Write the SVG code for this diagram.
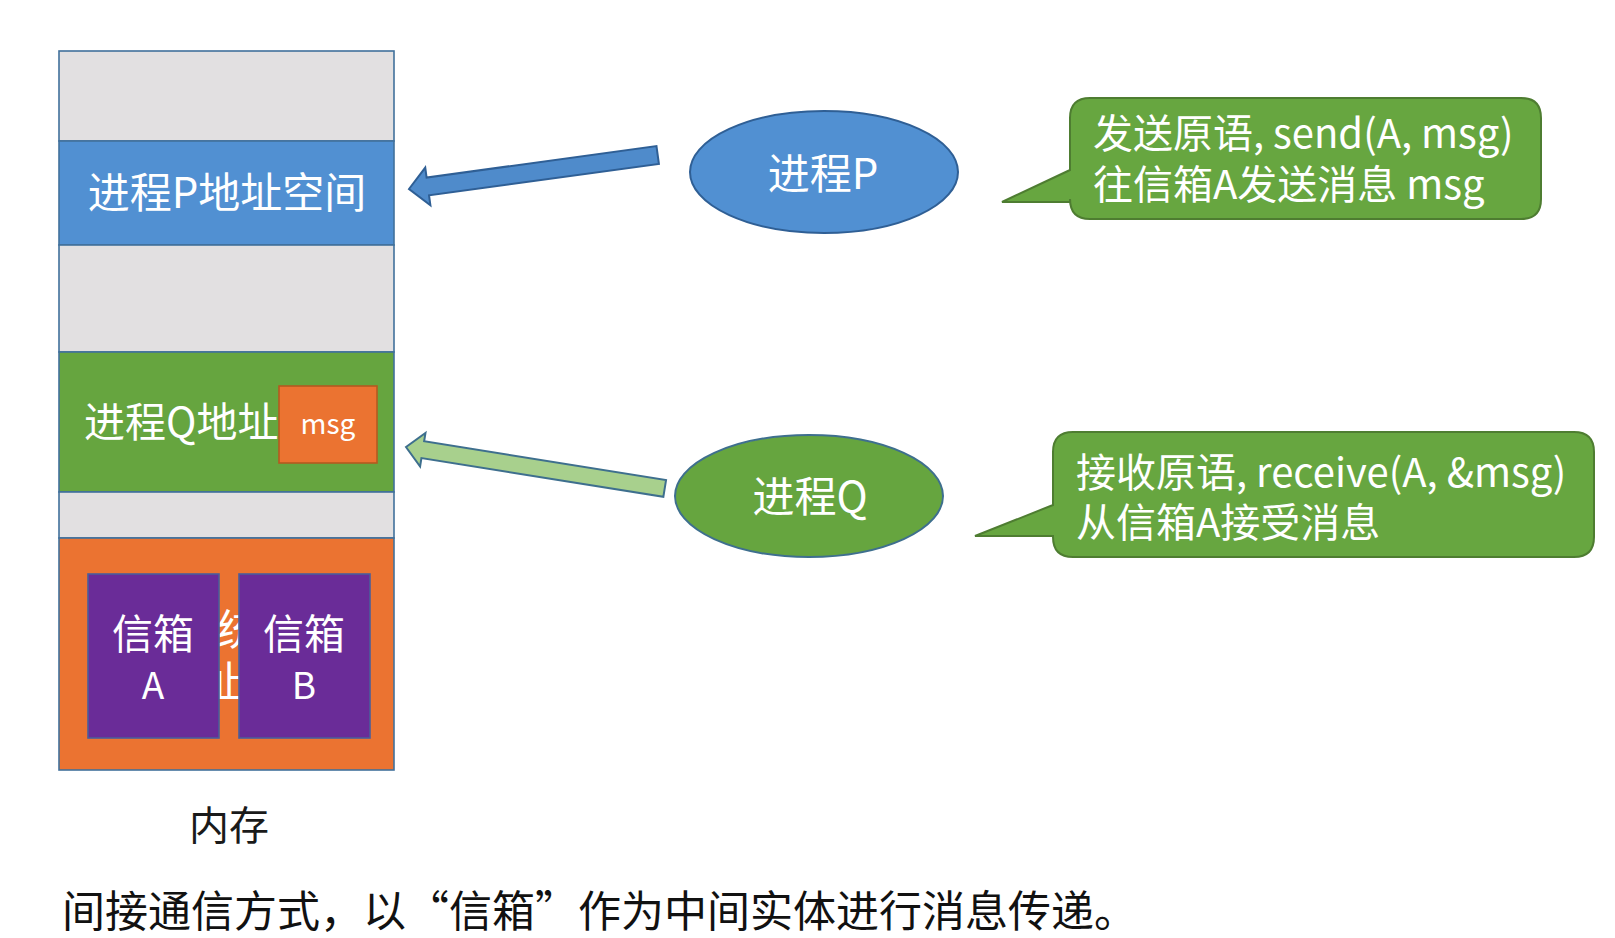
<svg xmlns="http://www.w3.org/2000/svg" width="1615" height="938" viewBox="0 0 1615 938">
<style>
.cjk{font-family:"Noto Sans CJK SC","Noto Sans",sans-serif;}
.w{fill:#ffffff;}
.seg{stroke:#41719C;stroke-width:1.6;}
.gray{fill:#E2E0E1;}
.bubble{fill:#67A640;stroke:#4E7D31;stroke-width:2;}
</style>
<defs>
  <clipPath id="gap"><rect x="219" y="574" width="20" height="164"/></clipPath>
</defs>
<rect width="1615" height="938" fill="#ffffff"/>
<g id="memory">
  <rect class="seg gray" x="59" y="51" width="335" height="90"/>
  <rect class="seg" x="59" y="141" width="335" height="104" fill="#5190D2"/>
  <rect class="seg gray" x="59" y="245" width="335" height="107"/>
  <rect class="seg" x="59" y="352" width="335" height="140" fill="#66A53F"/>
  <rect class="seg gray" x="59" y="492" width="335" height="46"/>
  <rect class="seg" x="59" y="538" width="335" height="232" fill="#EB7331"/>
  <text class="cjk w" x="227" y="208" font-size="42" text-anchor="middle">进程P地址空间</text>
  <text class="cjk w" x="84" y="437" font-size="41">进程Q地址</text>
  <g id="msg">
    <rect x="279" y="386" width="98" height="77" fill="#EB7331" stroke="#B35A20" stroke-width="1.6"/>
    <text class="cjk w" x="328" y="434" font-size="28" text-anchor="middle">msg</text>
  </g>
  <g clip-path="url(#gap)">
    <text class="cjk w" x="217" y="645" font-size="42">统</text>
    <text class="cjk w" x="200" y="697" font-size="42">址</text>
  </g>
  <g id="mailboxA">
    <rect x="88" y="574" width="131" height="164" fill="#6A2C98" stroke="#4A5E9C" stroke-width="1.6"/>
    <text class="cjk w" x="153" y="649" font-size="41" text-anchor="middle">信箱</text>
    <text class="cjk w" x="153" y="699" font-size="37" text-anchor="middle">A</text>
  </g>
  <g id="mailboxB">
    <rect x="239" y="574" width="131" height="164" fill="#6A2C98" stroke="#4A5E9C" stroke-width="1.6"/>
    <text class="cjk w" x="304" y="649" font-size="41" text-anchor="middle">信箱</text>
    <text class="cjk w" x="304" y="699" font-size="37" text-anchor="middle">B</text>
  </g>
  <text class="cjk" x="229" y="840" font-size="40" text-anchor="middle" fill="#1a1a1a">内存</text>
</g>
<g id="connectors">
  <polygon transform="translate(409,189) rotate(-7.78)" points="0,0 19,-19 19,-9 251,-9 251,9 19,9 19,19" fill="#4F8BCB" stroke="#2F5F95" stroke-width="2"/>
  <polygon transform="translate(406,447) rotate(9.1)" points="0,0 17,-17 17,-8.5 262,-8.5 262,8.5 17,8.5 17,17" fill="#A8D08D" stroke="#3E6F8E" stroke-width="2"/>
</g>
<g id="processP">
  <ellipse cx="824" cy="172" rx="134" ry="61" fill="#5190D2" stroke="#2F5F95" stroke-width="2"/>
  <text class="cjk w" x="823" y="189" font-size="42" text-anchor="middle">进程P</text>
</g>
<g id="processQ">
  <ellipse cx="809" cy="496" rx="134" ry="61" fill="#66A53F" stroke="#3E6F8E" stroke-width="2"/>
  <text class="cjk w" x="810" y="512" font-size="42" text-anchor="middle">进程Q</text>
</g>
<g id="bubbleSend">
  <path class="bubble" d="M1090,98 H1521 Q1541,98 1541,118 V199 Q1541,219 1521,219 H1090 Q1070,219 1070,199 V202 L1002,202 L1070,170 V118 Q1070,98 1090,98 Z"/>
  <text class="cjk w" x="1093" y="148" font-size="40">发送原语, send(A, msg)</text>
  <text class="cjk w" x="1093" y="199" font-size="40">往信箱A发送消息 msg</text>
</g>
<g id="bubbleReceive">
  <path class="bubble" d="M1073,432 H1574 Q1594,432 1594,452 V537 Q1594,557 1574,557 H1073 Q1053,557 1053,537 V536 L975,536 L1053,505 V452 Q1053,432 1073,432 Z"/>
  <text class="cjk w" x="1076" y="487" font-size="40">接收原语, receive(A, &amp;msg)</text>
  <text class="cjk w" x="1076" y="537" font-size="40">从信箱A接受消息</text>
</g>
<text class="cjk" x="62" y="927" font-size="43" fill="#111111">间接通信方式，以“信箱”作为中间实体进行消息传递。</text>
</svg>
